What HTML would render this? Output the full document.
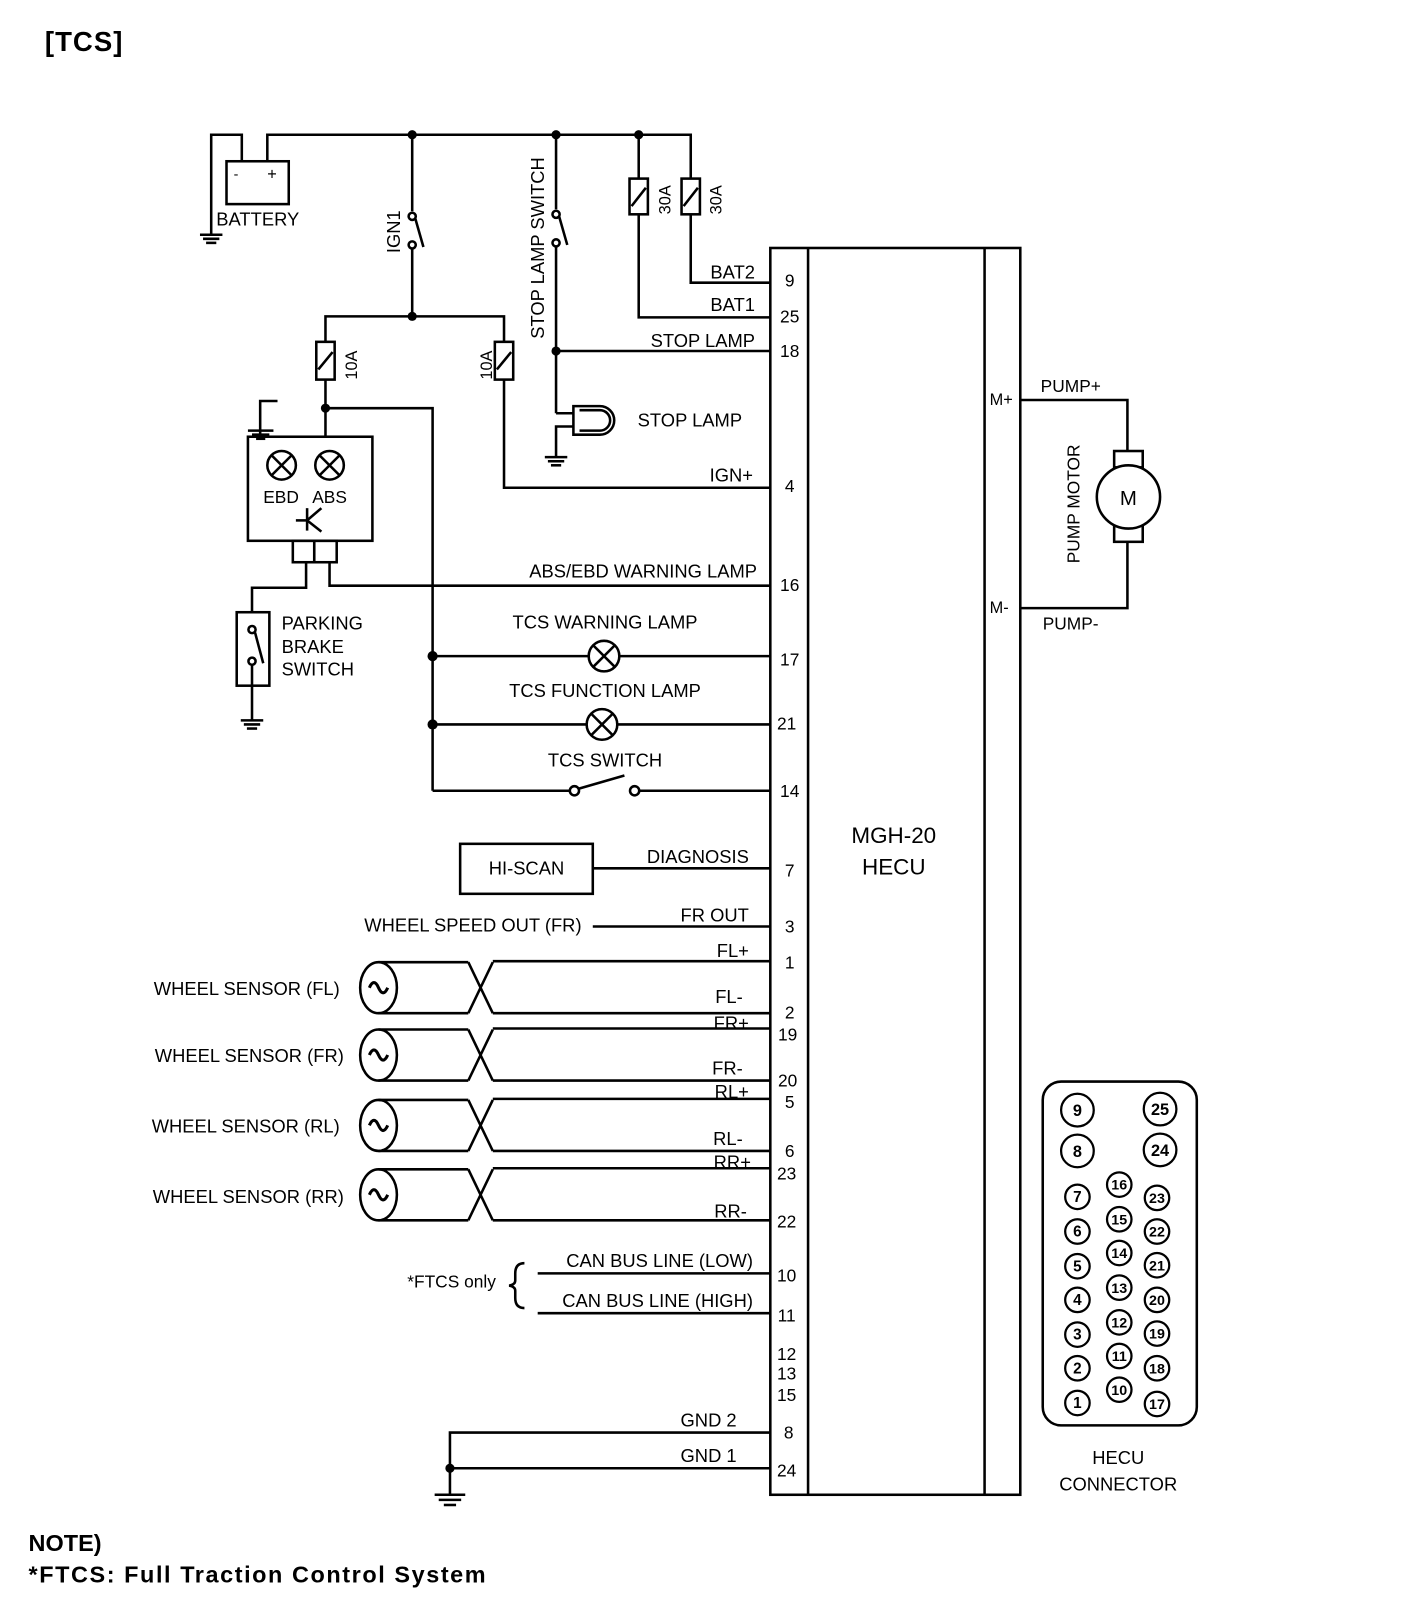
<!DOCTYPE html>
<html><head><meta charset="utf-8"><style>
html,body{margin:0;padding:0;background:#fff}
svg{display:block}
text{font-family:"Liberation Sans",sans-serif;fill:#000}
</style></head><body>
<svg width="1408" height="1604" viewBox="0 0 1380 1572" xmlns="http://www.w3.org/2000/svg">
<g stroke="#000" stroke-width="2.5" fill="none">
<!-- top bus -->
<polyline points="262,158 262,132 677,132 677,175"/>
<line x1="626" y1="132" x2="626" y2="175"/>
<polyline points="207,230 207,132 237,132 237,158"/>
<rect x="222" y="158" width="61" height="42"/>
<line x1="196" y1="230" x2="218" y2="230"/><line x1="199" y1="234" x2="215" y2="234"/><line x1="202" y1="238" x2="212" y2="238"/>
<!-- IGN1 -->
<line x1="404" y1="132" x2="404" y2="207"/>
<circle cx="404" cy="212" r="3.5" fill="#fff"/>
<circle cx="404" cy="240" r="3.5" fill="#fff"/>
<line x1="407" y1="214" x2="415" y2="242"/>
<line x1="404" y1="244" x2="404" y2="310"/>
<polyline points="319,335 319,310 494,310 494,335"/>
<rect x="310" y="335" width="18" height="37"/><line x1="312" y1="362" x2="326" y2="345"/>
<rect x="485" y="335" width="18" height="37"/><line x1="487" y1="362" x2="501" y2="345"/>
<line x1="319" y1="372" x2="319" y2="428"/>
<polyline points="319,400 424,400 424,775"/>
<polyline points="494,372 494,478 755,478"/>
<!-- ground near box -->
<polyline points="255,428 255,393 272,393"/>
<line x1="243" y1="422" x2="268" y2="422"/><line x1="247" y1="426" x2="264" y2="426"/><line x1="251" y1="430" x2="260" y2="430"/>
<!-- box -->
<rect x="243" y="428" width="122" height="102"/>
<circle cx="276" cy="456" r="14"/><line x1="266" y1="446" x2="286" y2="466"/><line x1="286" y1="446" x2="266" y2="466"/>
<circle cx="323" cy="456" r="14"/><line x1="313" y1="446" x2="333" y2="466"/><line x1="333" y1="446" x2="313" y2="466"/>
<line x1="301" y1="498" x2="301" y2="520"/><line x1="290" y1="510" x2="301" y2="510"/><line x1="301" y1="510" x2="315" y2="498"/><line x1="301" y1="510" x2="315" y2="521"/>
<rect x="287" y="530" width="21" height="21"/><rect x="308" y="530" width="22" height="21"/>
<polyline points="300,551 300,576 247,576 247,600"/>
<polyline points="323,551 323,574 755,574"/>
<rect x="232" y="600" width="32" height="72"/>
<circle cx="247" cy="617" r="3.5" fill="#fff"/><circle cx="247" cy="648" r="3.5" fill="#fff"/>
<line x1="250" y1="620" x2="258" y2="650"/>
<line x1="247" y1="652" x2="247" y2="706"/>
<line x1="236" y1="706" x2="258" y2="706"/><line x1="239" y1="710" x2="255" y2="710"/><line x1="242" y1="714" x2="252" y2="714"/>
<!-- stop lamp switch -->
<line x1="545" y1="132" x2="545" y2="205"/>
<circle cx="545" cy="210" r="3.5" fill="#fff"/><circle cx="545" cy="238" r="3.5" fill="#fff"/>
<line x1="548" y1="212" x2="556" y2="240"/>
<line x1="545" y1="242" x2="545" y2="405"/>
<polyline points="545,344 755,344"/>
<polyline points="545,405 562,405"/>
<path d="M562,398 L588,398 A14,14 0 0 1 588,426 L562,426 Z"/>
<path d="M568,402 L588,402 A10,10 0 0 1 588,422 L568,422"/>
<polyline points="562,418 545,418 545,448"/>
<line x1="534" y1="448" x2="556" y2="448"/><line x1="537" y1="452" x2="553" y2="452"/><line x1="540" y1="456" x2="550" y2="456"/>
<!-- 30A fuses -->
<rect x="617" y="175" width="18" height="35"/><line x1="619" y1="202" x2="633" y2="184"/>
<rect x="668" y="175" width="18" height="35"/><line x1="670" y1="202" x2="684" y2="184"/>
<polyline points="677,210 677,277 755,277"/>
<polyline points="626,210 626,311 755,311"/>
<!-- TCS lamps -->
<line x1="424" y1="643" x2="577" y2="643"/><line x1="607" y1="643" x2="755" y2="643"/>
<circle cx="592" cy="643" r="15"/><line x1="581" y1="632" x2="603" y2="654"/><line x1="603" y1="632" x2="581" y2="654"/>
<line x1="424" y1="710" x2="575" y2="710"/><line x1="605" y1="710" x2="755" y2="710"/>
<circle cx="590" cy="710" r="15"/><line x1="579" y1="699" x2="601" y2="721"/><line x1="601" y1="699" x2="579" y2="721"/>
<polyline points="424,775 559,775"/><circle cx="563" cy="775" r="4.5" fill="#fff"/>
<line x1="567" y1="773" x2="612" y2="760"/>
<circle cx="622" cy="775" r="4.5" fill="#fff"/><line x1="627" y1="775" x2="755" y2="775"/>
<!-- hi-scan -->
<rect x="451" y="827" width="130" height="49"/>
<line x1="581" y1="851" x2="755" y2="851"/>
<line x1="581" y1="908" x2="755" y2="908"/>
<!-- CAN -->
<line x1="527" y1="1248" x2="755" y2="1248"/>
<line x1="527" y1="1287" x2="755" y2="1287"/>
<path d="M514,1238 Q505,1238 505,1248 L505,1255 Q505,1259 499,1260 Q505,1261 505,1265 L505,1272 Q505,1282 514,1282"/>
<!-- GND -->
<polyline points="755,1404 441,1404 441,1465"/>
<line x1="441" y1="1439" x2="755" y2="1439"/>
<line x1="426" y1="1465" x2="456" y2="1465"/><line x1="430" y1="1470" x2="452" y2="1470"/><line x1="435" y1="1475" x2="447" y2="1475"/>
<!-- HECU -->
<rect x="755" y="243" width="245" height="1222"/>
<line x1="792" y1="243" x2="792" y2="1465"/>
<line x1="965" y1="243" x2="965" y2="1465"/>
<!-- motor -->
<polyline points="1000,392 1105,392 1105,442"/>
<polyline points="1000,596 1105,596 1105,531"/>
<rect x="1092" y="442" width="28" height="16"/>
<rect x="1092" y="515" width="28" height="16"/>
<circle cx="1106" cy="487" r="31" fill="#fff"/>
<!-- connector -->
<rect x="1022" y="1060" width="151" height="337" rx="18"/>
</g>
<g fill="#000">
<circle cx="404" cy="132" r="4.5"/><circle cx="545" cy="132" r="4.5"/><circle cx="626" cy="132" r="4.5"/>
<circle cx="404" cy="310" r="4.5"/><circle cx="319" cy="400" r="4.5"/><circle cx="545" cy="344" r="4.5"/>
<circle cx="424" cy="643" r="5"/><circle cx="424" cy="710" r="5"/><circle cx="441" cy="1439" r="4.5"/>
</g>
<g stroke="#000" stroke-width="2.5" fill="none">
<g id="ws">
<ellipse cx="371" cy="968" rx="18" ry="25"/>
<path d="M362,968 q4.5,-10 9,0 t9,0" stroke-width="3"/>
<line x1="371" y1="943" x2="459" y2="943"/><line x1="371" y1="993" x2="459" y2="993"/>
<line x1="459" y1="943" x2="483" y2="993"/><line x1="483" y1="943" x2="459" y2="993"/>
<line x1="483" y1="942" x2="755" y2="942"/><line x1="483" y1="993" x2="755" y2="993"/>
</g>
<use href="#ws" y="66"/><use href="#ws" y="135"/><use href="#ws" y="203"/>
</g>
<g font-size="18">
<text x="44" y="50" font-size="27" font-weight="bold" textLength="76">[TCS]</text>
<text x="212" y="221">BATTERY</text>
<text x="229" y="175" font-size="14">-</text><text x="262" y="176" font-size="16">+</text>
<text transform="translate(392,248) rotate(-90)">IGN1</text>
<text transform="translate(533,332) rotate(-90)">STOP LAMP SWITCH</text>
<text transform="translate(350,372) rotate(-90)" font-size="16">10A</text>
<text transform="translate(482,372) rotate(-90)" font-size="16">10A</text>
<text transform="translate(657,210) rotate(-90)" font-size="16">30A</text>
<text transform="translate(707,210) rotate(-90)" font-size="16">30A</text>
<text x="258" y="493" font-size="17">EBD</text><text x="306" y="493" font-size="17">ABS</text>
<text x="276" y="617">PARKING</text><text x="276" y="640">BRAKE</text><text x="276" y="662">SWITCH</text>
<text x="625" y="418">STOP LAMP</text>
<g text-anchor="end">
<text x="740" y="273">BAT2</text><text x="740" y="305">BAT1</text><text x="740" y="340">STOP LAMP</text>
<text x="738" y="472">IGN+</text><text x="742" y="566">ABS/EBD WARNING LAMP</text>
<text x="734" y="938">FL+</text><text x="728" y="983">FL-</text><text x="734" y="1009">FR+</text>
<text x="728" y="1053">FR-</text><text x="734" y="1076">RL+</text><text x="728" y="1122">RL-</text>
<text x="736" y="1145">RR+</text><text x="732" y="1193">RR-</text>
<text x="738" y="1242">CAN BUS LINE (LOW)</text><text x="738" y="1281">CAN BUS LINE (HIGH)</text>
<text x="722" y="1398">GND 2</text><text x="722" y="1433">GND 1</text>
<text x="734" y="846">DIAGNOSIS</text><text x="734" y="903">FR OUT</text>
<text x="570" y="913">WHEEL SPEED OUT (FR)</text>
<text x="333" y="975">WHEEL SENSOR (FL)</text><text x="337" y="1041">WHEEL SENSOR (FR)</text>
<text x="333" y="1110">WHEEL SENSOR (RL)</text><text x="337" y="1179">WHEEL SENSOR (RR)</text>
<text x="486" y="1262" font-size="17">*FTCS only</text>
</g>
<g text-anchor="middle">
<text x="593" y="616">TCS WARNING LAMP</text><text x="593" y="683">TCS FUNCTION LAMP</text>
<text x="593" y="751">TCS SWITCH</text><text x="516" y="857">HI-SCAN</text>
<text x="876" y="826" font-size="22">MGH-20</text><text x="876" y="857" font-size="22">HECU</text>
<text x="1106" y="495" font-size="20">M</text>
<text x="1096" y="1435">HECU</text><text x="1096" y="1461">CONNECTOR</text>
</g>
<g text-anchor="middle" font-size="17">
<text x="774" y="281">9</text><text x="774" y="316">25</text><text x="774" y="350">18</text>
<text x="774" y="482">4</text><text x="774" y="579">16</text><text x="774" y="652">17</text>
<text x="771" y="715">21</text><text x="774" y="781">14</text><text x="774" y="859">7</text>
<text x="774" y="914">3</text><text x="774" y="949">1</text><text x="774" y="998">2</text>
<text x="772" y="1020">19</text><text x="772" y="1065">20</text><text x="774" y="1086">5</text>
<text x="774" y="1134">6</text><text x="771" y="1156">23</text><text x="771" y="1203">22</text>
<text x="771" y="1256">10</text><text x="771" y="1295">11</text><text x="771" y="1333">12</text>
<text x="771" y="1352">13</text><text x="771" y="1373">15</text><text x="773" y="1410">8</text>
<text x="771" y="1447">24</text>
</g>
<text x="970" y="397" font-size="16">M+</text><text x="970" y="601" font-size="16">M-</text>
<text x="1020" y="384" font-size="17">PUMP+</text><text x="1022" y="617" font-size="17">PUMP-</text>
<text transform="translate(1058,552) rotate(-90)" font-size="17">PUMP MOTOR</text>
<text x="28" y="1520" font-size="23" font-weight="bold">NOTE)</text>
<text x="28" y="1551" font-size="23" font-weight="bold" textLength="448">*FTCS: Full Traction Control System</text>
</g>
<g stroke="#000" stroke-width="2.2" fill="none">
<circle cx="1056" cy="1088" r="16"/><circle cx="1137" cy="1087" r="16"/>
<circle cx="1056" cy="1128" r="16"/><circle cx="1137" cy="1127" r="16"/>
<circle cx="1056" cy="1173" r="12"/><circle cx="1056" cy="1207" r="12"/><circle cx="1056" cy="1241" r="12"/><circle cx="1056" cy="1274" r="12"/><circle cx="1056" cy="1308" r="12"/><circle cx="1056" cy="1341" r="12"/><circle cx="1056" cy="1375" r="12"/>
<circle cx="1097" cy="1161" r="12"/><circle cx="1097" cy="1195" r="12"/><circle cx="1097" cy="1228" r="12"/><circle cx="1097" cy="1262" r="12"/><circle cx="1097" cy="1296" r="12"/><circle cx="1097" cy="1329" r="12"/><circle cx="1097" cy="1362" r="12"/>
<circle cx="1134" cy="1174" r="12"/><circle cx="1134" cy="1207" r="12"/><circle cx="1134" cy="1240" r="12"/><circle cx="1134" cy="1274" r="12"/><circle cx="1134" cy="1307" r="12"/><circle cx="1134" cy="1341" r="12"/><circle cx="1134" cy="1376" r="12"/>
</g>
<g text-anchor="middle" font-size="16" font-weight="bold">
<text x="1056" y="1094">9</text><text x="1137" y="1093">25</text>
<text x="1056" y="1134">8</text><text x="1137" y="1133">24</text>
</g>
<g text-anchor="middle" font-size="15" font-weight="bold">
<text x="1056" y="1178">7</text><text x="1056" y="1212">6</text><text x="1056" y="1246">5</text><text x="1056" y="1279">4</text><text x="1056" y="1313">3</text><text x="1056" y="1346">2</text><text x="1056" y="1380">1</text>
<g font-size="14">
<text x="1097" y="1166">16</text><text x="1097" y="1200">15</text><text x="1097" y="1233">14</text><text x="1097" y="1267">13</text><text x="1097" y="1301">12</text><text x="1097" y="1334">11</text><text x="1097" y="1367">10</text>
<text x="1134" y="1179">23</text><text x="1134" y="1212">22</text><text x="1134" y="1245">21</text><text x="1134" y="1279">20</text><text x="1134" y="1312">19</text><text x="1134" y="1346">18</text><text x="1134" y="1381">17</text>
</g>
</g>
</svg>
</body></html>
